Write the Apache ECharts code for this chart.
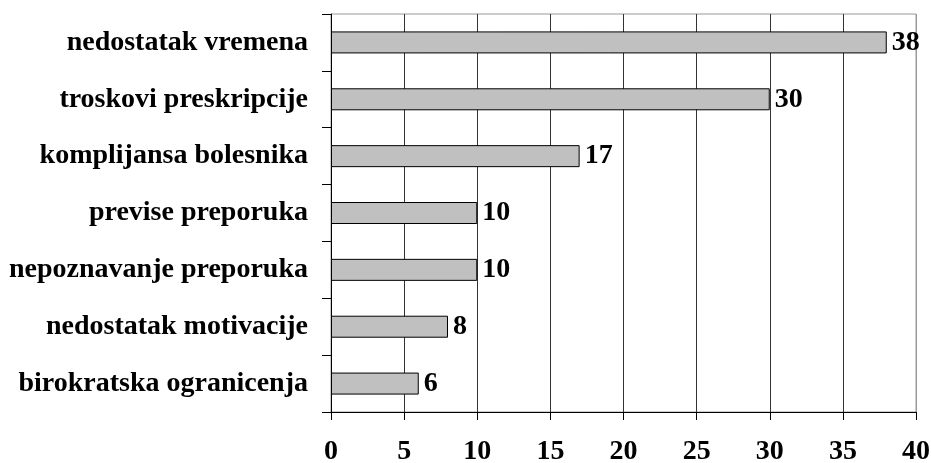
<!DOCTYPE html>
<html>
<head>
<meta charset="utf-8">
<script src="https://cdn.jsdelivr.net/npm/echarts@6/dist/echarts.min.js"></script>
<style>
  html, body { margin: 0; padding: 0; background: #fff; }
  #chart { width: 931px; height: 463px; }
</style>
</head>
<body>
<div id="chart"></div>
<script>
let categories = [
    'nedostatak vremena',
    'troskovi preskripcije',
    'komplijansa bolesnika',
    'previse preporuka',
    'nepoznavanje preporuka',
    'nedostatak motivacije',
    'birokratska ogranicenja'
];
let values = [38, 30, 17, 10, 10, 8, 6];

let chart = echarts.init(document.getElementById('chart'));
let font = '"Liberation Serif", "Times New Roman", serif';

// gridline colours: last one (at 40) is the lighter frame
let splitColors = ['#333', '#333', '#333', '#333', '#333', '#333', '#333', '#333', '#999'];

chart.setOption({
    animation: false,
    grid: {
        left: 331,
        right: 15,
        top: 14,
        bottom: 51,
        outerBoundsMode: 'none',
        containLabel: false,
        show: true,
        borderColor: '#999',
        borderWidth: 1
    },
    xAxis: {
        type: 'value',
        min: 0,
        max: 40,
        interval: 5,
        axisLine: { show: true, lineStyle: { color: '#000', width: 1 } },
        axisTick: { show: true, length: 8, lineStyle: { color: '#000' } },
        splitLine: { show: true, lineStyle: { color: splitColors, width: 1 } },
        axisLabel: {
            color: '#000',
            fontFamily: font,
            fontWeight: 'bold',
            fontSize: 28,
            margin: 26
        }
    },
    yAxis: {
        type: 'category',
        data: categories,
        inverse: true,
        axisLine: { show: true, lineStyle: { color: '#000', width: 1 } },
        axisTick: { show: true, length: 9, alignWithLabel: false, lineStyle: { color: '#000' } },
        axisLabel: {
            color: '#000',
            fontFamily: font,
            fontWeight: 'bold',
            fontSize: 28,
            margin: 23
        }
    },
    series: [{
        type: 'bar',
        data: values,
        barWidth: 22,
        itemStyle: {
            color: '#c0c0c0',
            borderColor: '#000',
            borderWidth: 1
        },
        label: {
            show: true,
            position: 'right',
            distance: 5,
            color: '#000',
            fontFamily: font,
            fontWeight: 'bold',
            fontSize: 28
        }
    }]
});
</script>
</body>
</html>
